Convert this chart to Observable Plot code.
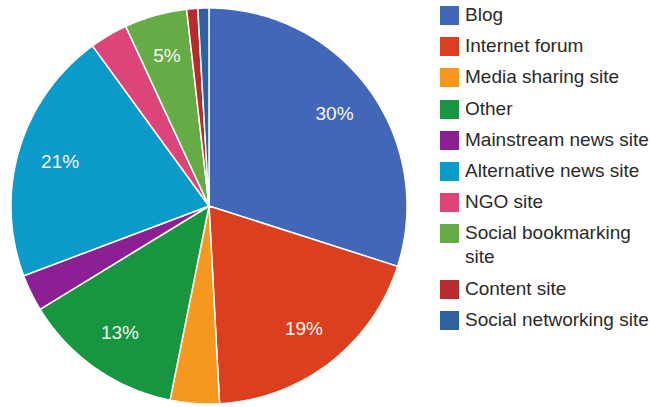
<!DOCTYPE html>
<html>
<head>
<meta charset="utf-8">
<script src="https://cdn.jsdelivr.net/npm/d3@7"></script>
<script src="https://cdn.jsdelivr.net/npm/@observablehq/plot@0.6"></script>
<style>
  html, body { margin: 0; padding: 0; background: #fff; }
  #wrap { position: relative; width: 650px; height: 407px; overflow: hidden; font-family: "Liberation Sans", Arial, sans-serif; }
  #legend { position: absolute; left: 440px; top: 3px; display: flex; flex-direction: column; gap: 7.2px; }
  .row { display: flex; align-items: flex-start; white-space: nowrap; }
  .sw { width: 19px; height: 19px; margin-top: 3px; margin-right: 6px; flex: none; }
  .lb { font-size: 19px; line-height: 24px; color: #2a2a2a; }
</style>
</head>
<body>
<div id="wrap"></div>
<script>
const categories = ["Blog", "Internet forum", "Media sharing site", "Other", "Mainstream news site",
  "Alternative news site", "NGO site", "Social bookmarking site", "Content site", "Social networking site"];
const shares = [29.9, 19.2, 4.0, 13.1, 3.0, 20.7, 3.1, 5.1, 0.9, 0.9];
const colors = ["#4267b8", "#dc3f1f", "#f7981e", "#17963f", "#8c1f94",
  "#0a9bcb", "#dd4479", "#65ac46", "#b72a2d", "#2e619f"];

const total = d3.sum(shares);
const slices = [];
let acc = 0;
categories.forEach((name, i) => {
  const a0 = acc / total * 2 * Math.PI;
  acc += shares[i];
  const a1 = acc / total * 2 * Math.PI;
  slices.push({name, value: shares[i], a0, a1, pct: Math.round(shares[i] / total * 100)});
});

// polygon vertices for each slice (geometry derived from the data)
const verts = [];
for (const s of slices) {
  verts.push({name: s.name, x: 0, y: 0});
  const n = Math.max(2, Math.ceil((s.a1 - s.a0) / (Math.PI / 360)));
  for (let k = 0; k <= n; k++) {
    const a = s.a0 + (s.a1 - s.a0) * k / n;
    verts.push({name: s.name, x: Math.sin(a), y: Math.cos(a)});
  }
}
const labels = slices.filter(s => s.pct >= 5).map(s => {
  const a = (s.a0 + s.a1) / 2;
  return {name: s.name, x: 0.785 * Math.sin(a), y: 0.785 * Math.cos(a), text: s.pct + "%"};
});

const cx = 208.5, cy = 205.5, R = 198;
const chart = Plot.plot({
  width: 650, height: 407,
  margin: 0,
  x: {domain: [-1, 1], range: [cx - R, cx + R], axis: null},
  y: {domain: [-1, 1], range: [cy + R, cy - R], axis: null},
  color: {domain: categories, range: colors},
  style: {background: "#fff"},
  marks: [
    Plot.line(verts, {x: "x", y: "y", z: "name", fill: "name", stroke: "white", strokeWidth: 1.5, curve: "linear-closed", strokeLinejoin: "round"}),
    Plot.text(labels, {x: "x", y: "y", text: "text", fill: "#f8f8ee", fontSize: 19, fontFamily: "Liberation Sans, Arial, sans-serif", style: "letter-spacing:1.5px"})
  ]
});
chart.style.position = "absolute";
chart.style.left = "0";
chart.style.top = "0";
const wrap = document.getElementById("wrap");
wrap.appendChild(chart);

const legend = document.createElement("div");
legend.id = "legend";
categories.forEach((name, i) => {
  const row = document.createElement("div");
  row.className = "row";
  const sw = document.createElement("div");
  sw.className = "sw";
  sw.style.background = colors[i];
  const lb = document.createElement("div");
  lb.className = "lb";
  if (name === "Social bookmarking site") {
    lb.innerHTML = "Social bookmarking<br>site";
  } else {
    lb.textContent = name;
  }
  row.appendChild(sw);
  row.appendChild(lb);
  legend.appendChild(row);
});
wrap.appendChild(legend);
</script>
</body>
</html>
